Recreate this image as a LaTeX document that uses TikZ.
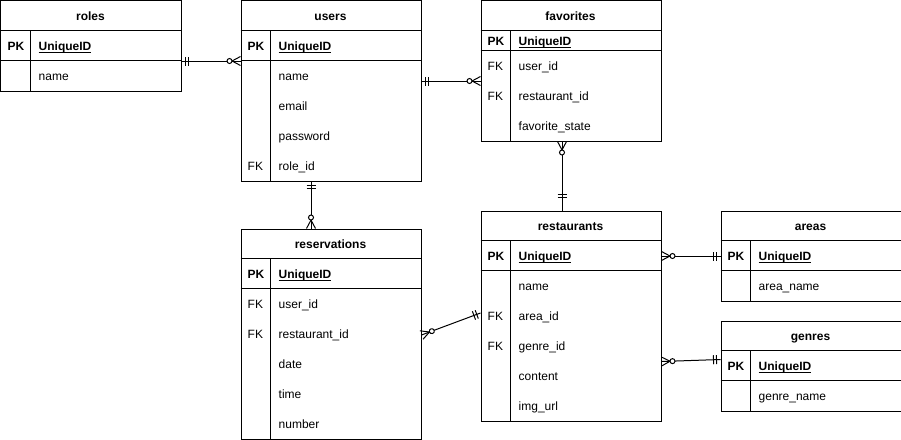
\documentclass[tikz,border=0pt]{standalone}
\usepackage{fontspec}
\setmainfont{Liberation Sans}
\usetikzlibrary{decorations.markings}
\newcommand\erul[1]{\setbox0\hbox{#1}\rlap{\rule[-1.9pt]{\wd0}{0.9pt}}\box0}
\newcommand\ermanyshape{\draw[line width=1pt] (8.5pt,0pt) -- (0pt,4.5pt) (8.5pt,0pt) -- (0pt,-4.5pt);
  \draw[line width=1pt, fill=white] (11pt,0pt) circle (2.5pt);}
\newcommand\eroneshape[2]{\draw[line width=1pt] (#1,-4.5pt) -- (#1,4.5pt) (#2,-4.5pt) -- (#2,4.5pt);}
\newcommand\erhead[4]{\node[hdr] (#1-t) at (#2+90,#3+20) {#4};}
\newcommand\errow[6]{\node[keyt] (#1-k#6) at (#2+7,#3+5) {#4};
  \node[fldt] (#1-f#6) at (#2+38,#3+5) {#5};}
\tikzset{
  tbl/.style={draw, line width=1pt, rectangle, inner sep=0pt, anchor=north west, minimum width=180pt},
  hdr/.style={font=\fontsize{12}{14}\selectfont\bfseries, inner sep=0pt, anchor=base},
  keyt/.style={inner sep=0pt, anchor=base west},
  fldt/.style={inner sep=0pt, anchor=base west},
  sep/.style={line width=1pt},
  rel/.style={line width=1pt},
  zm start/.style={postaction={decorate,decoration={markings,mark=at position 0 with {\ermanyshape}}}},
  zm end/.style={postaction={decorate,decoration={markings,mark=at position 1 with {\begin{scope}[xscale=-1]\ermanyshape\end{scope}}}}},
  one start/.style={postaction={decorate,decoration={markings,mark=at position 0 with {\eroneshape{4pt}{7pt}}}}},
  one end/.style={postaction={decorate,decoration={markings,mark=at position 1 with {\begin{scope}[xscale=-1]\eroneshape{4pt}{7pt}\end{scope}}}}},
  one end far/.style={postaction={decorate,decoration={markings,mark=at position 1 with {\begin{scope}[xscale=-1]\eroneshape{13pt}{16pt}\end{scope}}}}},
}
\begin{document}
\begin{tikzpicture}[x=1pt,y=-1pt,font=\fontsize{12}{14}\selectfont]
\useasboundingbox[fill=white] (-0.5,-0.5) rectangle (900.5,438.5);
% roles
\node[tbl, minimum height=90pt] (roles) at (0,0) {};
\draw[sep] (0,30) -- (180,30) (0,60) -- (180,60) (30,30) -- (30,90);
\erhead{roles}{0}{0}{roles}
\errow{roles}{0}{45}{\bfseries PK}{\bfseries\erul{UniqueID}}{1}
\errow{roles}{0}{75}{}{name}{2}
% users
\node[tbl, minimum height=180pt] (users) at (240,0) {};
\draw[sep] (240,30) -- (420,30) (240,60) -- (420,60) (270,30) -- (270,180);
\erhead{users}{240}{0}{users}
\errow{users}{240}{45}{\bfseries PK}{\bfseries\erul{UniqueID}}{1}
\errow{users}{240}{75}{}{name}{2}
\errow{users}{240}{105}{}{email}{3}
\errow{users}{240}{135}{}{password}{4}
\errow{users}{240}{165}{FK}{role\_id}{5}
% favorites
\node[tbl, minimum height=140pt] (favorites) at (480,0) {};
\draw[sep] (480,30) -- (660,30) (480,50) -- (660,50) (510,30) -- (510,140);
\erhead{favorites}{480}{0}{favorites}
\errow{favorites}{480}{40}{\bfseries PK}{\bfseries\erul{UniqueID}}{1}
\errow{favorites}{480}{65}{FK}{user\_id}{2}
\errow{favorites}{480}{95}{FK}{restaurant\_id}{3}
\errow{favorites}{480}{125}{}{favorite\_state}{4}
% restaurants
\node[tbl, minimum height=210pt] (restaurants) at (480,210) {};
\draw[sep] (480,240) -- (660,240) (480,270) -- (660,270) (510,240) -- (510,420);
\erhead{restaurants}{480}{210}{restaurants}
\errow{restaurants}{480}{255}{\bfseries PK}{\bfseries\erul{UniqueID}}{1}
\errow{restaurants}{480}{285}{}{name}{2}
\errow{restaurants}{480}{315}{FK}{area\_id}{3}
\errow{restaurants}{480}{345}{FK}{genre\_id}{4}
\errow{restaurants}{480}{375}{}{content}{5}
\errow{restaurants}{480}{405}{}{img\_url}{6}
% reservations
\node[tbl, minimum height=210pt] (reservations) at (240,228) {};
\draw[sep] (240,258) -- (420,258) (240,288) -- (420,288) (270,258) -- (270,438);
\erhead{reservations}{240}{228}{reservations}
\errow{reservations}{240}{273}{\bfseries PK}{\bfseries\erul{UniqueID}}{1}
\errow{reservations}{240}{303}{FK}{user\_id}{2}
\errow{reservations}{240}{333}{FK}{restaurant\_id}{3}
\errow{reservations}{240}{363}{}{date}{4}
\errow{reservations}{240}{393}{}{time}{5}
\errow{reservations}{240}{423}{}{number}{6}
% areas
\node[tbl, minimum height=90pt] (areas) at (720,210) {};
\draw[sep] (720,240) -- (900,240) (720,270) -- (900,270) (750,240) -- (750,300);
\erhead{areas}{720}{210}{areas}
\errow{areas}{720}{255}{\bfseries PK}{\bfseries\erul{UniqueID}}{1}
\errow{areas}{720}{285}{}{area\_name}{2}
% genres
\node[tbl, minimum height=90pt] (genres) at (720,320) {};
\draw[sep] (720,350) -- (900,350) (720,380) -- (900,380) (750,350) -- (750,410);
\erhead{genres}{720}{320}{genres}
\errow{genres}{720}{365}{\bfseries PK}{\bfseries\erul{UniqueID}}{1}
\errow{genres}{720}{395}{}{genre\_name}{2}
% relations
\draw[rel, one start, zm end] ([yshift=-15pt]roles.east) -- ([yshift=30pt]users.west);
\draw[rel, one start, zm end] ([yshift=10pt]users.east) -- ([yshift=-10pt]favorites.west);
\draw[rel, zm start, one end far] ([xshift=-9pt]favorites.south) -- ([xshift=-9pt]restaurants.north);
\draw[rel, one start, zm end] ([xshift=-20pt]users.south) -- ([xshift=-20pt]reservations.north);
\draw[rel, zm start, one end] ([yshift=-1pt]reservations.east) -- ([yshift=3pt]restaurants.west);
\draw[rel, zm start, one end] ([yshift=60pt]restaurants.east) -- (areas.west);
\draw[rel, zm start, one end] ([yshift=-45.5pt]restaurants.east) -- ([yshift=6.5pt]genres.west);
\end{tikzpicture}
\end{document}
